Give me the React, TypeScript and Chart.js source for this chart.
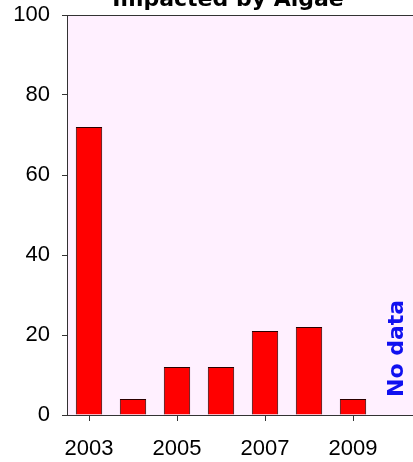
import React, { useEffect, useRef } from 'react';
import { Chart, registerables } from 'chart.js';

Chart.register(...registerables);

const years = ['2003', '2004', '2005', '2006', '2007', '2008', '2009', '2010'];
const impacted: (number | null)[] = [72, 4, 12, 12, 21, 22, 4, null];
const shownYears = ['2003', '2005', '2007', '2009'];
const yMin = 0;
const yMax = 100;
const yStep = 20;
const titleText = 'Impacted by Algae';
const noDataLabel = 'No data';
const noDataYear = '2010';

const comic = "'Comic Sans MS', 'DejaVu Sans', sans-serif";
const axisFont = "'Liberation Sans', Arial, sans-serif";

const framePlugin = {
  id: 'frame',
  beforeDraw(chart: any) {
    const { ctx, chartArea: a } = chart;
    ctx.save();
    ctx.fillStyle = '#FFF0FF';
    ctx.fillRect(a.left, a.top, a.right - a.left, a.bottom - a.top);
    ctx.restore();
  },
  afterDraw(chart: any) {
    const { ctx, chartArea: a, scales } = chart;
    ctx.save();
    ctx.strokeStyle = '#333';
    ctx.lineWidth = 1;
    ctx.beginPath();
    ctx.moveTo(a.left - 5, Math.round(a.top) + 0.5);
    ctx.lineTo(a.right, Math.round(a.top) + 0.5);
    ctx.stroke();

    // "No data" label for the missing year
    const x = scales.x.getPixelForValue(years.indexOf(noDataYear));
    const y = scales.y.getPixelForValue(4.5);
    ctx.translate(x, y);
    ctx.rotate(-Math.PI / 2);
    ctx.fillStyle = '#1010F0';
    ctx.font = `bold 22px ${comic}`;
    ctx.textAlign = 'left';
    ctx.textBaseline = 'middle';
    ctx.fillText(noDataLabel, 0, 0);
    ctx.restore();

    // Title (partly cut at the top)
    ctx.save();
    ctx.fillStyle = '#000';
    ctx.font = `bold 22px ${comic}`;
    ctx.textAlign = 'center';
    ctx.textBaseline = 'alphabetic';
    ctx.fillText(titleText, a.left + 161, 6);
    ctx.restore();
  },
};

export default function App() {
  const ref = useRef<HTMLCanvasElement | null>(null);

  useEffect(() => {
    document.body.style.margin = '0';
    document.body.style.overflow = 'hidden';
    const canvas = ref.current;
    if (!canvas) return;
    const chart = new Chart(canvas, {
      type: 'bar',
      data: {
        labels: years,
        datasets: [
          {
            data: impacted,
            backgroundColor: '#FF0000',
            borderColor: '#2a0000',
            borderWidth: 1,
            categoryPercentage: 1,
            barPercentage: 0.6,
          },
        ],
      },
      options: {
        animation: false,
        responsive: false,
        devicePixelRatio: 1,
        layout: { padding: { left: 0, top: 15, right: 0, bottom: 0 } },
        plugins: {
          legend: { display: false },
          tooltip: { enabled: false },
          title: { display: false },
        },
        scales: {
          x: {
            type: 'category',
            offset: true,
            afterFit: (s: any) => {
              s.height = 47;
              s.paddingLeft = 0;
              s.paddingRight = 0;
              s.paddingTop = 0;
              s.paddingBottom = 0;
            },
            grid: {
              offset: false,
              drawOnChartArea: false,
              tickLength: 6,
              color: (c: any) =>
                shownYears.includes(years[c.index]) ? '#333' : 'rgba(0,0,0,0)',
              tickColor: (c: any) =>
                shownYears.includes(years[c.index]) ? '#333' : 'rgba(0,0,0,0)',
            },
            border: { display: true, color: '#333', width: 1 },
            ticks: {
              autoSkip: false,
              maxRotation: 0,
              minRotation: 0,
              padding: 15,
              color: '#000',
              font: { size: 22, family: axisFont },
              callback: (_v: any, i: number) =>
                shownYears.includes(years[i]) ? years[i] : '',
            },
          },
          y: {
            min: yMin,
            max: yMax,
            afterFit: (s: any) => {
              s.width = 67;
              s.paddingLeft = 0;
              s.paddingRight = 0;
              s.paddingTop = 0;
              s.paddingBottom = 0;
            },
            grid: { drawOnChartArea: false, tickLength: 5, color: '#333' },
            border: { display: true, color: '#333', width: 1 },
            ticks: {
              stepSize: yStep,
              padding: 12,
              color: '#000',
              font: { size: 22, family: axisFont },
            },
          },
        },
      },
      plugins: [framePlugin],
    });
    return () => chart.destroy();
  }, []);

  return (
    <div
      style={{
        position: 'absolute',
        top: 0,
        left: 0,
        width: 413,
        height: 462,
        overflow: 'hidden',
        background: '#fff',
      }}
    >
      <canvas ref={ref} width={419} height={462} style={{ width: 419, height: 462, display: 'block' }} />
    </div>
  );
}
